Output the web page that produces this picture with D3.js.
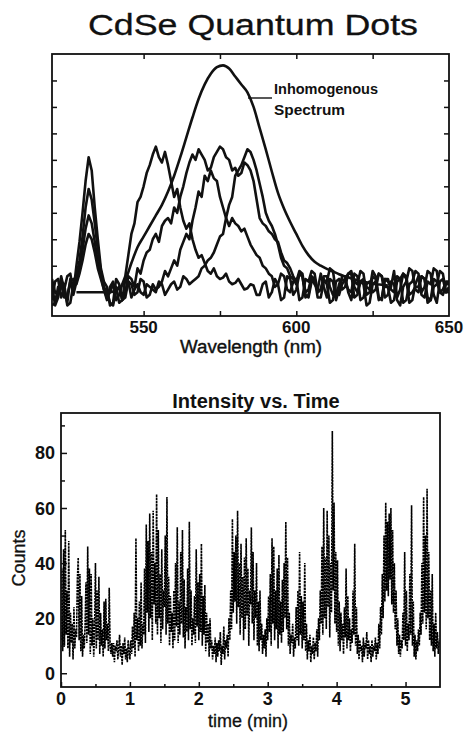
<!DOCTYPE html>
<html>
<head>
<meta charset="utf-8">
<script src="https://cdn.jsdelivr.net/npm/d3@7"></script>
<style>
  body { margin: 0; background: #fff; }
  svg { display: block; font-family: "Liberation Sans", Arial, Helvetica, sans-serif; }
</style>
</head>
<body>
<svg id="chart" width="464" height="734"></svg>
<script>
// ---- single dot spectra, one value per nm starting at 520 nm ----
const wlStart = 520, wlStep = 1;

const dotA = [
  0.3, -0.5, -0.2, 0.6, 0.1, -0.4, 0.5, -0.1, 0.4, 0.9,
  1.6, 2.4, 2.9, 2.6, 1.9, 1.1, 0.6, 0.1, -0.3, 0.2,
  0.4, -0.3, -0.1, 0.3, 0.6, 1.4, 2.2, 2.6, 3.4, 3.6,
  4.0, 4.5, 4.8, 5.2, 5.5, 5.1, 4.9, 5.3, 4.8, 4.2,
  3.6, 3.9, 3.2, 2.7, 2.4, 2.6, 2.0, 1.6, 1.3, 1.4,
  1.1, 0.8, 0.7, 0.9, 0.6, 0.5, 0.55, 0.7, 0.4, 0.3,
  0.35, 0.5, 0.3, 0.1, 0.15, 0.3, 0.25, -0.1, -0.1, 0.3,
  0.4, -0.2, 0.0, 0.5, 0.3, -0.3, -0.2, 0.6, 0.5, -0.1,
  0.1, 0.7, 0.6, -0.2, -0.1, 0.5, 0.3, 0.1, 0.7, 0.2,
  -0.2, 0.5, 0.4, -0.3, 0.1, 0.6, 0.6, 0.0, -0.3, 0.4,
  0.3, 0.8, 0.7, -0.1, 0.0, 0.6, 0.5, -0.3, -0.2, 0.5,
  0.4, 0.2, 0.8, -0.2, 0.1, 0.7, 0.5, -0.4, -0.3, 0.3,
  0.6, 0.0, 0.2, 0.8, 0.7, -0.1, -0.4, 0.4, 0.5, 0.0,
  0.2];

const dotB = [
  -0.3, 0.4, 0.5, -0.2, 0.1, 0.6, 0.7, 0.0, 1.0, 1.9,
  3.0, 4.2, 5.1, 4.6, 3.2, 2.0, 0.9, 0.4, 0.2, -0.5,
  -0.4, 0.5, 0.3, -0.3, 0.0, 0.6, 0.5, 0.2, 0.9, 0.7,
  1.2, 1.5, 1.6, 2.0, 2.2, 1.9, 2.5, 2.7, 2.8, 2.6,
  3.2, 3.0, 3.6, 4.0, 4.5, 4.9, 5.2, 5.0, 5.4, 5.2,
  5.0, 4.6, 4.7, 5.1, 5.3, 5.5, 5.4, 5.1, 5.0, 4.6,
  4.7, 4.4, 4.5, 4.9, 4.8, 4.6, 4.2, 3.5, 2.8, 2.6,
  2.5, 2.3, 2.2, 2.0, 1.9, 1.5, 1.2, 1.1, 0.9, 0.6,
  0.4, 0.8, 0.7, 0.0, 0.1, 0.6, 0.5, -0.2, -0.2, 0.4,
  0.4, 0.9, 0.8, 0.0, -0.1, 0.3, 0.5, 0.7, 0.7, -0.2,
  -0.1, 0.4, 0.5, 0.2, 0.1, 0.8, 0.6, -0.2, -0.3, 0.5,
  0.5, 0.1, 0.0, 0.6, 0.5, -0.4, -0.3, 0.3, 0.4, 0.8,
  0.7, -0.1, -0.2, 0.4, 0.3, 0.9, 0.8, 0.0, -0.1, 0.3,
  0.3];

const dotC = [
  0.5, 0.0, -0.1, 0.4, 0.3, -0.5, -0.4, 0.3, 0.6, 1.2,
  2.1, 3.2, 3.9, 3.5, 2.6, 1.6, 0.8, 0.2, 0.0, -0.4,
  -0.5, 0.1, 0.2, -0.3, -0.2, 0.4, 0.3, -0.1, 0.0, 0.5,
  0.4, -0.2, -0.1, 0.3, 0.1, 0.2, 0.4, 0.8, 0.6, 0.9,
  1.2, 1.0, 1.6, 1.9, 2.2, 2.0, 2.7, 3.2, 3.8, 3.6,
  4.4, 4.2, 4.6, 4.3, 4.2, 3.6, 3.2, 2.8, 2.5, 2.8,
  2.6, 2.5, 2.3, 2.4, 2.1, 1.8, 1.6, 1.4, 1.3, 1.0,
  0.9, 0.7, 0.6, 0.2, 0.3, 0.7, 0.6, 0.1, 0.0, 0.4,
  0.5, -0.3, -0.2, 0.5, 0.4, 0.8, 0.7, 0.0, 0.1, 0.5,
  0.3, -0.4, -0.3, 0.4, 0.5, 0.1, 0.2, 0.7, 0.8, 0.2,
  0.0, 0.4, 0.3, -0.5, -0.4, 0.3, 0.4, 0.7, 0.6, -0.2,
  -0.1, 0.4, 0.3, -0.3, -0.5, 0.2, 0.4, 0.9, 0.8, 0.1,
  0.0, 0.6, 0.5, -0.4, -0.3, 0.2, 0.3, 0.8, 0.7, 0.0,
  0.1];

const dotD = [
  -0.5, -0.4, 0.2, 0.3, -0.2, -0.1, 0.4, 0.5, 0.3, 0.7,
  1.2, 1.8, 2.2, 2.0, 1.5, 0.9, 0.5, 0.1, -0.2, 0.0,
  0.3, 0.2, -0.4, -0.3, 0.5, 0.4, -0.2, 0.1, 0.3, 0.0,
  -0.1, 0.3, 0.2, 0.1, 0.0, 0.4, 0.3, -0.1, 0.1, 0.3,
  0.4, 0.1, 0.2, 0.6, 0.5, 0.3, 0.4, 0.5, 0.6, 0.9,
  1.0, 1.2, 1.3, 1.5, 1.8, 2.1, 2.2, 2.8, 3.3, 3.6,
  4.4, 4.6, 4.8, 5.1, 5.4, 5.3, 5.0, 4.6, 4.1, 3.6,
  3.0, 2.7, 2.5, 2.2, 1.8, 1.3, 1.0, 0.9, 0.6, 0.5,
  0.3, 0.7, 0.6, -0.1, -0.2, 0.4, 0.5, 0.0, 0.1, 0.6,
  0.6, 0.2, -0.1, -0.2, 0.3, 0.5, 0.4, 0.1, 0.0, 0.7,
  0.6, -0.3, -0.2, 0.3, 0.4, 0.0, 0.1, 0.7, 0.6, 0.2,
  0.2, -0.4, -0.3, 0.4, 0.5, 0.7, 0.6, -0.1, 0.0, 0.2,
  0.2, 0.6, 0.5, -0.2, -0.3, 0.5, 0.4, 0.0, 0.1, 0.4,
  0.4];

// ensemble (inhomogeneous) spectrum
const inhomWl = [528, 530, 532, 534, 536, 538, 540, 542, 544, 546,
                 548, 550, 552, 554, 556, 558, 560, 562, 564, 566,
                 568, 570, 572, 574, 576, 578, 580, 582, 584, 586,
                 588, 590, 592, 594, 596, 598, 600, 602, 604, 606,
                 608, 610, 612, 614, 616, 618, 620, 622, 624, 626,
                 628, 630];
const inhomVals = [0.0, 0.0, 0.0, 0.0, 0.0, 0.0, 0.02, 0.15, 0.45, 1.1,
                   1.7, 2.1, 2.5, 2.9, 3.3, 3.8, 4.4, 5.1, 5.85, 6.6,
                   7.3, 7.85, 8.25, 8.5, 8.57, 8.45, 8.15, 7.85, 7.55, 7.0,
                   6.2, 5.4, 4.55, 3.75, 3.15, 2.65, 2.2, 1.75, 1.4, 1.15,
                   1.0, 0.88, 0.78, 0.68, 0.6, 0.52, 0.45, 0.4, 0.35, 0.3,
                   0.28, 0.25];

const wlLabelTicks = [550, 600, 650];
const wlAllTicks = [550, 575, 600, 625];
const specYTicks = [0, 1, 2, 3, 4, 5, 6, 7, 8];

// ---- intensity trace, one value every 0.0125 min ----
const tStep = 0.0125;
const counts = [
  12, 38, 8, 45, 10, 52, 14, 30, 9, 48, 6, 22, 11, 18, 5, 24, 9, 16, 13, 34,
  42, 12, 36, 8, 28, 6, 14, 9, 18, 33, 11, 46, 14, 38, 7, 36, 10, 20, 6, 15,
  40, 9, 30, 12, 35, 7, 22, 10, 16, 6, 26, 9, 27, 12, 18, 8, 31, 10, 7, 11,
  6, 11, 4, 10, 8, 12, 5, 9, 14, 6, 10, 3, 11, 7, 13, 5, 9, 4, 12, 8,
  5, 12, 7, 17, 9, 22, 6, 49, 12, 20, 8, 26, 10, 33, 9, 18, 14, 38, 11, 54,
  22, 48, 15, 58, 20, 44, 12, 59, 25, 40, 18, 65, 14, 52, 20, 36, 11, 45, 16, 30,
  24, 50, 14, 64, 18, 35, 10, 28, 15, 22, 9, 30, 12, 40, 17, 53, 11, 26, 14, 44,
  18, 52, 13, 34, 9, 24, 15, 38, 12, 55, 16, 30, 10, 20, 14, 28, 11, 45, 17, 33,
  12, 36, 15, 47, 10, 28, 14, 32, 8, 22, 11, 18, 6, 20, 9, 12, 5, 10, 7, 13,
  4, 11, 6, 12, 8, 15, 3, 10, 7, 17, 5, 12, 9, 14, 6, 20, 12, 30, 16, 56,
  22, 44, 26, 50, 18, 59, 24, 40, 14, 47, 20, 35, 12, 42, 16, 49, 21, 38, 10, 30,
  25, 53, 18, 44, 12, 30, 20, 40, 10, 26, 8, 30, 12, 18, 7, 14, 9, 16, 6, 20,
  12, 28, 15, 36, 10, 49, 18, 46, 12, 30, 16, 38, 9, 43, 14, 26, 11, 34, 15, 40,
  20, 55, 16, 42, 10, 22, 7, 14, 11, 18, 6, 13, 9, 24, 12, 30, 10, 44, 14, 28,
  9, 26, 12, 40, 8, 18, 5, 12, 8, 14, 4, 10, 7, 13, 5, 11, 8, 16, 6, 20,
  12, 30, 18, 46, 14, 60, 20, 42, 16, 59, 24, 50, 13, 40, 22, 88, 30, 62, 18, 44,
  15, 41, 10, 26, 8, 22, 12, 18, 7, 24, 13, 38, 9, 28, 12, 20, 8, 16, 11, 30,
  14, 47, 10, 24, 7, 14, 5, 12, 8, 10, 4, 13, 6, 11, 9, 15, 5, 12, 7, 10,
  4, 12, 6, 10, 8, 13, 5, 11, 7, 18, 9, 24, 14, 36, 20, 50, 26, 62, 30, 55,
  28, 58, 34, 60, 25, 52, 22, 40, 16, 30, 10, 20, 7, 14, 6, 12, 9, 22, 12, 44,
  10, 30, 8, 18, 12, 36, 14, 61, 10, 26, 6, 14, 5, 12, 8, 16, 10, 22, 14, 40,
  18, 64, 22, 50, 16, 67, 20, 44, 12, 30, 10, 36, 8, 18, 6, 22, 9, 15, 7, 12,
  10
];
const timeTicks = [0, 1, 2, 3, 4, 5];
const timeMinor = [0.5, 1.5, 2.5, 3.5, 4.5];
const countTicks = [0, 20, 40, 60, 80];
const countMinor = [10, 30, 50, 70, 90];

const ink = '#111';
const svg = d3.select('#chart');

// ================= top panel: spectra =================
const sp = { left: 52, right: 449, top: 54, bottom: 316 };
const xW = d3.scaleLinear().domain([520, 650]).range([sp.left, sp.right]);
const yS = d3.scaleLinear().domain([-0.9, 9]).range([sp.bottom, sp.top]);

svg.append('text')
    .attr('x', 253).attr('y', 35)
    .attr('text-anchor', 'middle')
    .attr('font-size', 30)
    .attr('textLength', 330)
    .attr('lengthAdjust', 'spacingAndGlyphs')
    .attr('fill', ink)
    .attr('stroke', ink).attr('stroke-width', 0.3)
    .text('CdSe Quantum Dots');

svg.append('clipPath').attr('id', 'clipTop')
  .append('rect')
    .attr('x', sp.left).attr('y', sp.top)
    .attr('width', sp.right - sp.left).attr('height', sp.bottom - sp.top);

const specLine = d3.line()
    .x((d, i) => xW(wlStart + i * wlStep))
    .y(d => yS(d));

const specG = svg.append('g').attr('clip-path', 'url(#clipTop)');
[dotA, dotB, dotC, dotD].forEach(s => {
  specG.append('path')
      .datum(s)
      .attr('d', specLine)
      .attr('fill', 'none')
      .attr('stroke', ink)
      .attr('stroke-width', 2.6)
      .attr('stroke-linejoin', 'round');
});

specG.append('path')
    .datum(inhomWl.map((w, i) => [w, inhomVals[i]]))
    .attr('d', d3.line().curve(d3.curveMonotoneX).x(d => xW(d[0])).y(d => yS(d[1])))
    .attr('fill', 'none')
    .attr('stroke', ink)
    .attr('stroke-width', 2.6);

// inward ticks on all four sides
const topAxes = [
  d3.axisBottom(xW).tickValues(wlAllTicks).tickSize(-5).tickFormat(''),
  d3.axisTop(xW).tickValues(wlAllTicks).tickSize(-5).tickFormat(''),
  d3.axisLeft(yS).tickValues(specYTicks).tickSize(-5).tickFormat(''),
  d3.axisRight(yS).tickValues(specYTicks).tickSize(-5).tickFormat('')
];
const topPos = [`translate(0,${sp.bottom})`, `translate(0,${sp.top})`,
                `translate(${sp.left},0)`, `translate(${sp.right},0)`];
topAxes.forEach((ax, i) => {
  const g = svg.append('g').attr('transform', topPos[i]).call(ax);
  g.select('.domain').remove();
  g.selectAll('line').attr('stroke', ink).attr('stroke-width', 1.5);
});

svg.append('rect')
    .attr('x', sp.left).attr('y', sp.top)
    .attr('width', sp.right - sp.left).attr('height', sp.bottom - sp.top)
    .attr('fill', 'none').attr('stroke', ink).attr('stroke-width', 1.8);

svg.append('g').selectAll('text')
  .data(wlLabelTicks)
  .join('text')
    .attr('x', d => xW(d)).attr('y', 333)
    .attr('text-anchor', 'middle')
    .attr('font-size', 17).attr('font-weight', 'bold')
    .attr('fill', ink)
    .text(d => d);

svg.append('text')
    .attr('x', 251).attr('y', 353)
    .attr('text-anchor', 'middle')
    .attr('font-size', 18)
    .attr('textLength', 142).attr('lengthAdjust', 'spacingAndGlyphs')
    .attr('fill', ink)
    .attr('stroke', ink).attr('stroke-width', 0.4)
    .text('Wavelength (nm)');

// label for the ensemble curve
svg.append('line')
    .attr('x1', 248).attr('x2', 272)
    .attr('y1', 98).attr('y2', 98)
    .attr('stroke', ink).attr('stroke-width', 1.4);
svg.append('text')
    .attr('x', 274).attr('y', 94)
    .attr('font-size', 15).attr('font-weight', 'bold')
    .attr('textLength', 104).attr('lengthAdjust', 'spacingAndGlyphs')
    .attr('fill', ink)
    .text('Inhomogenous');
svg.append('text')
    .attr('x', 274).attr('y', 115)
    .attr('font-size', 15).attr('font-weight', 'bold')
    .attr('textLength', 71).attr('lengthAdjust', 'spacingAndGlyphs')
    .attr('fill', ink)
    .text('Spectrum');

// ================= bottom panel: intensity vs time =================
const tp = { left: 61, right: 440, top: 413, bottom: 687 };
const xT = d3.scaleLinear().domain([0, 5.5]).range([tp.left, tp.right]);
const yC = d3.scaleLinear().domain([-5, 94.5]).range([tp.bottom, tp.top]);

svg.append('text')
    .attr('x', 256).attr('y', 408)
    .attr('text-anchor', 'middle')
    .attr('font-size', 20).attr('font-weight', 'bold')
    .attr('fill', ink)
    .text('Intensity vs. Time');

svg.append('clipPath').attr('id', 'clipBot')
  .append('rect')
    .attr('x', tp.left).attr('y', tp.top)
    .attr('width', tp.right - tp.left).attr('height', tp.bottom - tp.top);

svg.append('g').attr('clip-path', 'url(#clipBot)')
  .append('path')
    .datum(counts)
    .attr('d', d3.line().x((d, i) => xT(i * tStep)).y(d => yC(d)))
    .attr('fill', 'none')
    .attr('stroke', '#000')
    .attr('stroke-width', 1.6)
    .attr('stroke-dasharray', '2.4,0.8');

const botAxes = [
  [d3.axisBottom(xT).tickValues(timeTicks).tickSize(-5).tickFormat(''), `translate(0,${tp.bottom})`],
  [d3.axisBottom(xT).tickValues(timeMinor).tickSize(-3).tickFormat(''), `translate(0,${tp.bottom})`],
  [d3.axisLeft(yC).tickValues(countTicks).tickSize(-6).tickFormat(''), `translate(${tp.left},0)`],
  [d3.axisLeft(yC).tickValues(countMinor).tickSize(-4).tickFormat(''), `translate(${tp.left},0)`]
];
botAxes.forEach(([ax, tr]) => {
  const g = svg.append('g').attr('transform', tr).call(ax);
  g.select('.domain').remove();
  g.selectAll('line').attr('stroke', ink).attr('stroke-width', 1.5);
});

svg.append('rect')
    .attr('x', tp.left).attr('y', tp.top)
    .attr('width', tp.right - tp.left).attr('height', tp.bottom - tp.top)
    .attr('fill', 'none').attr('stroke', ink).attr('stroke-width', 1.8);

svg.append('g').selectAll('text')
  .data(timeTicks)
  .join('text')
    .attr('x', d => xT(d)).attr('y', 705)
    .attr('text-anchor', 'middle')
    .attr('font-size', 18).attr('font-weight', 'bold')
    .attr('fill', ink)
    .text(d => d);

svg.append('g').selectAll('text')
  .data(countTicks)
  .join('text')
    .attr('x', 55).attr('y', d => yC(d) + 6.5)
    .attr('text-anchor', 'end')
    .attr('font-size', 18).attr('font-weight', 'bold')
    .attr('fill', ink)
    .text(d => d);

svg.append('text')
    .attr('x', 248).attr('y', 727)
    .attr('text-anchor', 'middle')
    .attr('font-size', 18)
    .attr('fill', ink)
    .attr('stroke', ink).attr('stroke-width', 0.3)
    .text('time (min)');

svg.append('text')
    .attr('transform', 'translate(25,558) rotate(-90)')
    .attr('text-anchor', 'middle')
    .attr('font-size', 18)
    .attr('fill', ink)
    .attr('stroke', ink).attr('stroke-width', 0.3)
    .text('Counts');
</script>
</body>
</html>
